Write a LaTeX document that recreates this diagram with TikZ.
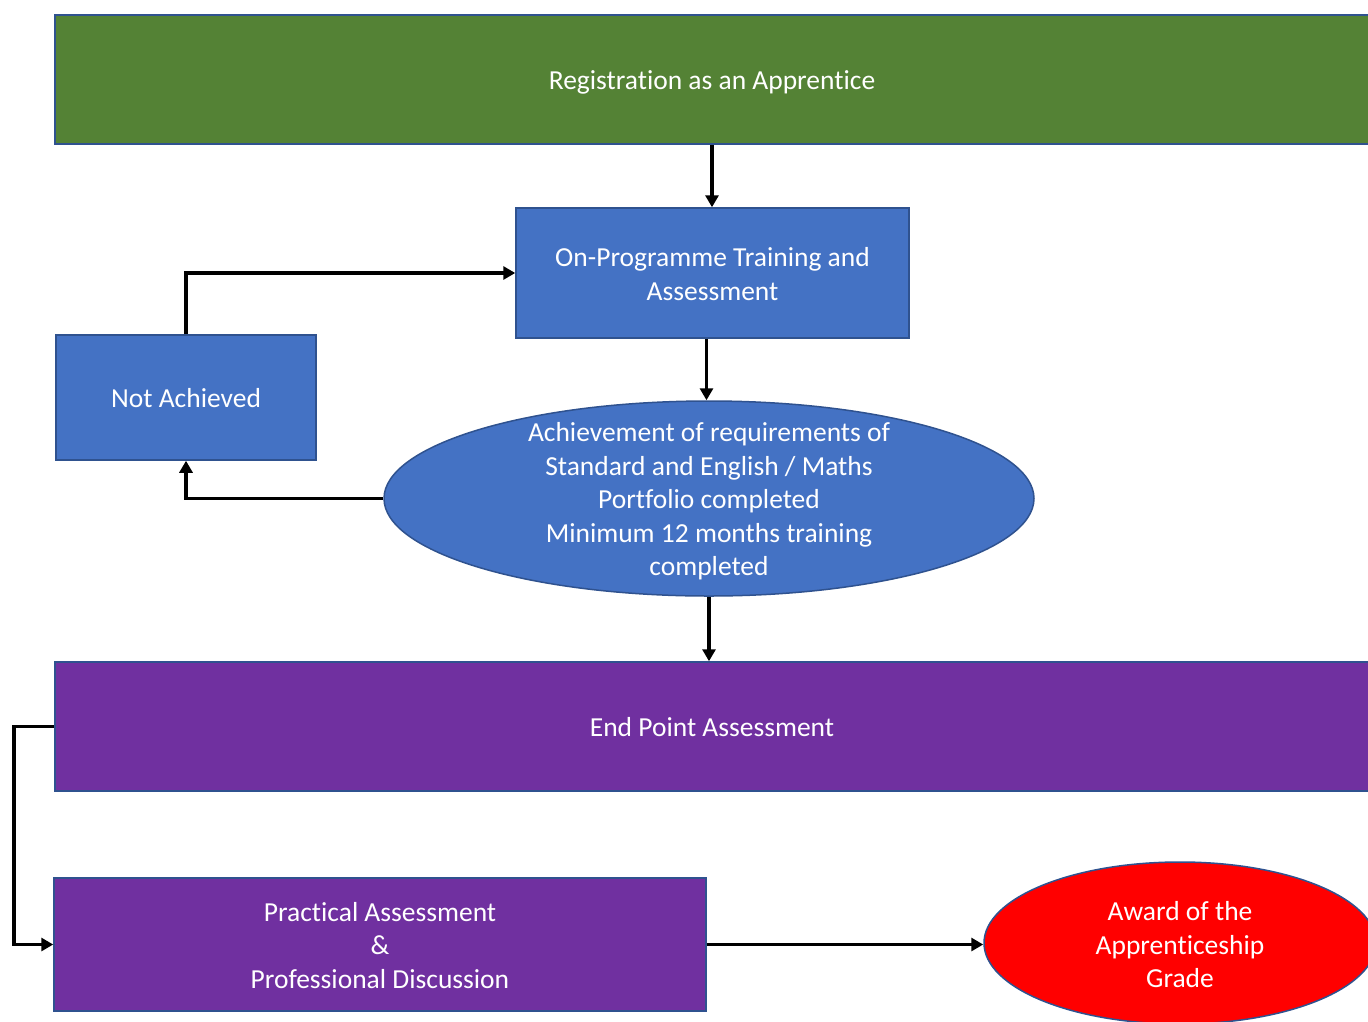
\documentclass[tikz,border=0pt]{standalone}
\usepackage{fontspec}
\setmainfont{Carlito}[RawFeature={-liga;-clig;-dlig}]
\usetikzlibrary{shapes.geometric,arrows.meta}
\definecolor{cgreen}{HTML}{548235}
\definecolor{cblue}{HTML}{4472C4}
\definecolor{cedge}{HTML}{2F528F}
\definecolor{cpurple}{HTML}{7030A0}
\definecolor{cred}{HTML}{FF0000}
\tikzset{
  lbl/.style={text=white, align=center, font=\fontsize{27.5}{33.5}\selectfont, inner sep=0pt, yshift=-1pt},
  box/.style={rectangle, draw=cedge, line width=1.5pt, inner sep=0pt},
  oval/.style={ellipse, draw=cedge, line width=1.5pt, inner sep=0pt},
  conn/.style={line width=3.8pt, -{Triangle[length=12pt,width=13pt]}},
}
\begin{document}
\begin{tikzpicture}[x=1pt,y=-1pt]
\useasboundingbox (0,0) rectangle (1368,1021);
\clip (0,0) rectangle (1368,1021);
\node[box, fill=cgreen, minimum width=1318pt, minimum height=129pt] (reg) at (714,79.5) {};
\node[lbl] (regt) at (712,81) {Registration as an Apprentice};
\node[box, fill=cblue, minimum width=393pt, minimum height=130pt] (opt) at (712.5,273) {};
\node[lbl] (optt) at (712.5,273) {On-Programme Training and\\Assessment};
\node[box, fill=cblue, minimum width=260pt, minimum height=125pt] (na) at (186,397.5) {};
\node[lbl] (nat) at (186,397.5) {Not Achieved};
\node[oval, fill=cblue, minimum width=650pt, minimum height=195pt] (ach) at (709,498.5) {};
\node[lbl] (acht) at (709,500.5) {Achievement of requirements of\\Standard and English / Maths\\Portfolio completed\\Minimum 12 months training\\completed};
\node[box, fill=cpurple, minimum width=1318pt, minimum height=129pt] (epa) at (714,726.5) {};
\node[lbl] (epat) at (712,726.5) {End Point Assessment};
\node[box, fill=cpurple, minimum width=652pt, minimum height=133pt] (pa) at (380,944.5) {};
\node[lbl] (pat) at (380,944.5) {Practical Assessment\\\&\\Professional Discussion};
\node[oval, fill=cred, minimum width=392pt, minimum height=162pt] (award) at (1180,943) {};
\node[lbl] (awardt) at (1180,944) {Award of the\\Apprenticeship\\Grade};
\coordinate (bend) at (14,726.5);
\draw[conn] (reg.south -| regt) -- (opt.north -| regt);
\draw[conn] ([xshift=-6pt]opt.south) -- ([xshift=-6pt]opt.south |- ach.north);
\draw[conn] (ach.south) -- (ach.south |- epa.north);
\draw[conn] (na.north) |- (opt.west);
\draw[conn] (ach.west) -| (na.south);
\draw[conn] (epa.west) -- (bend) |- (pa.west);
\draw[conn] (pa.east) -- (pa.east -| award.west);
\end{tikzpicture}
\end{document}
